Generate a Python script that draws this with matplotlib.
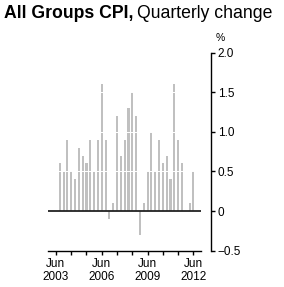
import numpy as np
import matplotlib
matplotlib.use("Agg")
import matplotlib.pyplot as plt

plt.rcParams['font.family'] = ['Liberation Sans', 'DejaVu Sans']

# quarterly CPI change (%), Sep 2003 .. Jun 2012
quarters = np.arange(1, 37)          # 0 = Jun 2003
change = [0.6, 0.5,
          0.9, 0.5, 0.4, 0.8,
          0.7, 0.6, 0.9, 0.5,
          0.9, 1.6, 0.9, -0.1,
          0.1, 1.2, 0.7, 0.9,
          1.3, 1.5, 1.2, -0.3,
          0.1, 0.5, 1.0, 0.5,
          0.9, 0.6, 0.7, 0.4,
          1.6, 0.9, 0.6, 0.0,
          0.1, 0.5]
xticks = np.arange(0, 37, 4)
xlabels = ["Jun\n2003", "", "", "Jun\n2006", "", "", "Jun\n2009", "", "", "Jun\n2012"]
yticks = [-0.5, 0, 0.5, 1.0, 1.5, 2.0]
ylabels = ["\u22120.5", "0", "0.5", "1.0", "1.5", "2.0"]

fig = plt.figure(figsize=(2.84, 2.87), dpi=100)
ax = fig.add_axes([0.170, 0.1265, 0.538, 0.6905])
ax.bar(quarters, change, width=0.55, color="#c0c0c0", zorder=2)
for g in [0.5, 1.0, 1.5]:
    ax.axhline(g, color="white", lw=0.7, zorder=3)
ax.axhline(0, color="#222222", lw=1.3, zorder=4)

ax.set_xlim(-2, 38)
ax.set_ylim(-0.5, 2.0)
for s in ["top", "left"]:
    ax.spines[s].set_visible(False)
ax.spines["right"].set_position(("outward", 7))
ax.spines["right"].set_linewidth(1.0)
ax.spines["bottom"].set_linewidth(1.0)
ax.yaxis.tick_right()
ax.set_yticks(yticks)
ax.set_yticklabels(ylabels)
ax.set_xticks(xticks)
ax.set_xticklabels(xlabels)
ax.tick_params(axis="both", length=3, width=1, labelsize=8.5, pad=2, colors="black")
ax.text(220 / 284, 1 - 38 / 287, "%", transform=fig.transFigure, ha="center", va="center", fontsize=7.5)

t1 = fig.text(0.014, 0.953, "All Groups CPI,", fontsize=12.7, fontweight="bold", va="center", ha="left")
fig.canvas.draw()
ext = t1.get_window_extent()
fig.text((ext.x1 + 4) / fig.bbox.width, 0.953, "Quarterly change", fontsize=12.7, va="center", ha="left")

fig.savefig("out.png", dpi=100)
